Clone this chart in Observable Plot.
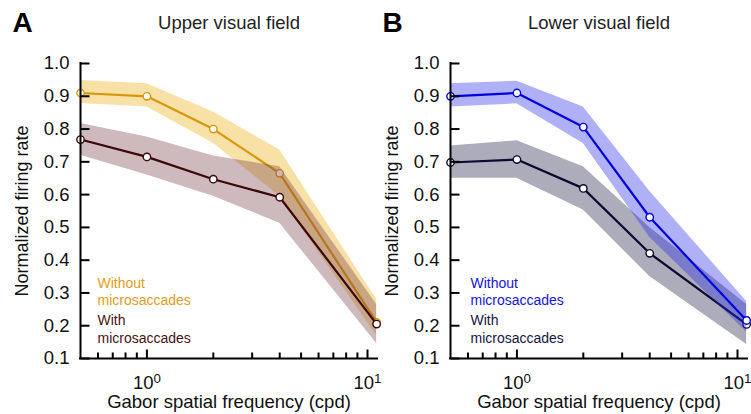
<!DOCTYPE html>
<html>
<head>
<meta charset="utf-8">
<script src="https://cdn.jsdelivr.net/npm/d3@7"></script>
<script src="https://cdn.jsdelivr.net/npm/@observablehq/plot@0.6"></script>
<style>
  body { margin: 0; background: #fff; }
  #root { position: relative; width: 751px; height: 414px; overflow: hidden; font-family: "Liberation Sans", Arial, sans-serif; }
  #root svg { position: absolute; top: 0; }
</style>
</head>
<body>
<div id="root"></div>
<script>
// ---- data ----
const freqs = [0.5, 1, 2, 4, 11];
const xDomain = [0.5, 11.1];
const yDomain = [0.1, 1.0];
const yTicks = [0.1, 0.2, 0.3, 0.4, 0.5, 0.6, 0.7, 0.8, 0.9, 1.0];
const xMajorTicks = [1, 10];
const xMinorTicks = [0.6, 0.7, 0.8, 0.9, 2, 3, 4, 5, 6, 7, 8, 9];
const xTickLabels = ["10^0", "10^1"];

const upperWithout   = [0.91, 0.90, 0.80, 0.665, 0.21];
const upperWithoutLo = [0.878, 0.867, 0.757, 0.595, 0.17];
const upperWithoutHi = [0.948, 0.938, 0.852, 0.736, 0.28];
const upperWith      = [0.768, 0.715, 0.647, 0.592, 0.205];
const upperWithLo    = [0.72, 0.66, 0.595, 0.513, 0.146];
const upperWithHi    = [0.817, 0.776, 0.718, 0.685, 0.265];

const lowerWithout   = [0.90, 0.91, 0.806, 0.531, 0.216];
const lowerWithoutLo = [0.867, 0.877, 0.756, 0.47, 0.18];
const lowerWithoutHi = [0.938, 0.946, 0.867, 0.61, 0.274];
const lowerWith      = [0.698, 0.707, 0.619, 0.421, 0.204];
const lowerWithLo    = [0.65, 0.65, 0.553, 0.35, 0.143];
const lowerWithHi    = [0.748, 0.764, 0.685, 0.50, 0.265];

const panels = [
  {letter: "A", title: "Upper visual field", left: 0,
   series: [
     {name: "Without\nmicrosaccades", y: upperWithout, lo: upperWithoutLo, hi: upperWithoutHi, line: "#d8960a", band: "#e8a800", op: 0.35, text: "#e09e1a"},
     {name: "With\nmicrosaccades", y: upperWith, lo: upperWithLo, hi: upperWithHi, line: "#3a0808", band: "#783c46", op: 0.36, text: "#4a1212"}
   ], order: [0, 1], legendDx: 17},
  {letter: "B", title: "Lower visual field", left: 370,
   series: [
     {name: "Without\nmicrosaccades", y: lowerWithout, lo: lowerWithoutLo, hi: lowerWithoutHi, line: "#0000dc", band: "#2828e6", op: 0.37, text: "#1414e0"},
     {name: "With\nmicrosaccades", y: lowerWith, lo: lowerWithLo, hi: lowerWithHi, line: "#0a0a30", band: "#282850", op: 0.39, text: "#16163e"}
   ], order: [1, 0], legendDx: 20}
];

const tickLeft = {draw(ctx) { ctx.moveTo(0, 0); ctx.lineTo(9, 0); }};
const tickUpMajor = {draw(ctx) { ctx.moveTo(0, 0); ctx.lineTo(0, -9); }};
const tickUpMinor = {draw(ctx) { ctx.moveTo(0, 0); ctx.lineTo(0, -6); }};

const root = document.getElementById("root");
const FONT = "Liberation Sans, Arial, sans-serif";

for (const p of panels) {
  const tables = p.series.map(s => freqs.map((f, i) => ({f, y: s.y[i], lo: s.lo[i], hi: s.hi[i]})));
  const marks = [];
  for (const k of p.order) {
    const s = p.series[k], t = tables[k];
    marks.push(Plot.areaY(t, {x: "f", y1: "lo", y2: "hi", fill: s.band, fillOpacity: s.op}));
    marks.push(Plot.line(t, {x: "f", y: "y", stroke: s.line, strokeWidth: 2.2}));
    marks.push(Plot.dot(t, {x: "f", y: "y", r: 3.7, fill: "white", stroke: s.line, strokeWidth: 1.4}));
  }
  // axes
  marks.push(Plot.ruleX([xDomain[0]], {stroke: "black", strokeWidth: 2, strokeLinecap: "square"}));
  marks.push(Plot.ruleY([yDomain[0]], {stroke: "black", strokeWidth: 2, strokeLinecap: "square"}));
  marks.push(Plot.dot(yTicks, {y: d => d, frameAnchor: "left", symbol: tickLeft, fill: "none", stroke: "black", strokeWidth: 2}));
  marks.push(Plot.dot(xMajorTicks, {x: d => d, frameAnchor: "bottom", symbol: tickUpMajor, fill: "none", stroke: "black", strokeWidth: 2}));
  marks.push(Plot.dot(xMinorTicks, {x: d => d, frameAnchor: "bottom", symbol: tickUpMinor, fill: "none", stroke: "black", strokeWidth: 2}));
  marks.push(Plot.text(yTicks, {y: d => d, text: d => d.toFixed(1), frameAnchor: "left", textAnchor: "end", lineAnchor: "middle", dx: -11, fontSize: 18.5, fill: "#111"}));
  marks.push(Plot.text(xMajorTicks, {x: d => d, text: (d, i) => xTickLabels[i], frameAnchor: "bottom", textAnchor: "middle", lineAnchor: "middle", dy: 25, fontSize: 18.5, fill: "#111"}));
  // axis titles
  marks.push(Plot.text(["Normalized firing rate"], {frameAnchor: "left", textAnchor: "middle", lineAnchor: "middle", rotate: -90, dx: -58, fontSize: 18, fill: "#111"}));
  marks.push(Plot.text(["Gabor spatial frequency (cpd)"], {frameAnchor: "bottom", textAnchor: "middle", lineAnchor: "middle", dy: 44, fontSize: 18.5, fill: "#111"}));
  // panel title and letter
  marks.push(Plot.text([p.title], {frameAnchor: "top", textAnchor: "middle", lineAnchor: "middle", dy: -40.5, fontSize: 18.5, fill: "#222"}));
  marks.push(Plot.text([p.letter], {frameAnchor: "top-left", textAnchor: "middle", lineAnchor: "middle", dx: -58, dy: -40, fontSize: 28, fontWeight: "bold", fill: "#000"}));
  // legend
  marks.push(Plot.text([p.series[0].name], {frameAnchor: "bottom-left", textAnchor: "start", lineAnchor: "middle", dx: p.legendDx, dy: -67.5, fontSize: 14, lineHeight: 1.22, fill: p.series[0].text}));
  marks.push(Plot.text([p.series[1].name], {frameAnchor: "bottom-left", textAnchor: "start", lineAnchor: "middle", dx: p.legendDx, dy: -30, fontSize: 14, lineHeight: 1.25, fill: p.series[1].text}));

  const svg = Plot.plot({
    width: 380,
    height: 414,
    marginLeft: 80,
    marginRight: 3,
    marginTop: 63,
    marginBottom: 56,
    style: {fontFamily: FONT, background: "transparent", overflow: "visible"},
    x: {type: "log", domain: xDomain, axis: null},
    y: {domain: yDomain, axis: null},
    marks
  });
  svg.style.left = p.left + "px";
  root.appendChild(svg);

  // superscript tick labels
  d3.select(svg).selectAll("text").filter(function() { return this.textContent.includes("^"); }).each(function() {
    const [base, exp] = this.textContent.split("^");
    const sel = d3.select(this);
    sel.text(base);
    sel.append("tspan").attr("dy", "-0.45em").attr("font-size", "0.72em").text(exp);
  });
}
</script>
</body>
</html>
